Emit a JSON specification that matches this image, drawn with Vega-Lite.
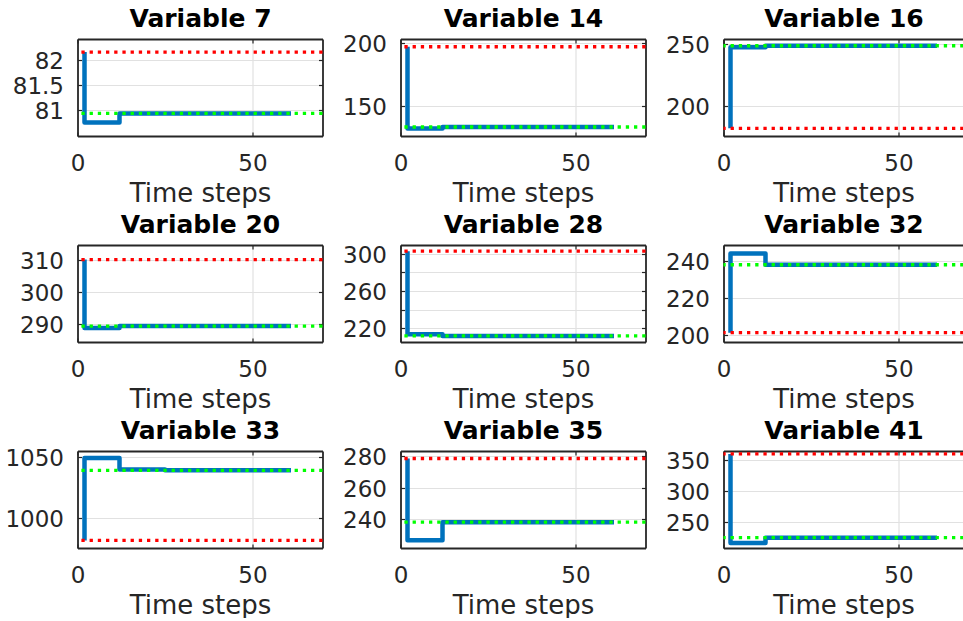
{
  "$schema": "https://vega.github.io/schema/vega-lite/v6.json",
  "background": "white",
  "padding": {"left": 4.5, "top": 6, "right": 0, "bottom": 0},
  "columns": 3,
  "bounds": "flush",
  "spacing": {"row": 109, "column": 78},
  "datasets": {
    "d": [
      {"v": 7, "kind": "path", "i": 0, "t": 2, "y": 82.15},
      {"v": 7, "kind": "path", "i": 1, "t": 2, "y": 80.75},
      {"v": 7, "kind": "path", "i": 2, "t": 12, "y": 80.93},
      {"v": 7, "kind": "path", "i": 3, "t": 61, "y": 80.93},
      {"v": 7, "kind": "limit", "y": 82.15},
      {"v": 7, "kind": "target", "y": 80.93},

      {"v": 14, "kind": "path", "i": 0, "t": 2, "y": 197.2},
      {"v": 14, "kind": "path", "i": 1, "t": 2, "y": 131.8},
      {"v": 14, "kind": "path", "i": 2, "t": 12, "y": 133},
      {"v": 14, "kind": "path", "i": 3, "t": 61, "y": 133},
      {"v": 14, "kind": "limit", "y": 197.2},
      {"v": 14, "kind": "target", "y": 133},

      {"v": 16, "kind": "path", "i": 0, "t": 2, "y": 182.5},
      {"v": 16, "kind": "path", "i": 1, "t": 2, "y": 247.2},
      {"v": 16, "kind": "path", "i": 2, "t": 12, "y": 248.4},
      {"v": 16, "kind": "path", "i": 3, "t": 61, "y": 248.4},
      {"v": 16, "kind": "limit", "y": 182.5},
      {"v": 16, "kind": "target", "y": 248.4},

      {"v": 20, "kind": "path", "i": 0, "t": 2, "y": 310},
      {"v": 20, "kind": "path", "i": 1, "t": 2, "y": 288.9},
      {"v": 20, "kind": "path", "i": 2, "t": 12, "y": 289.5},
      {"v": 20, "kind": "path", "i": 3, "t": 61, "y": 289.5},
      {"v": 20, "kind": "limit", "y": 310},
      {"v": 20, "kind": "target", "y": 289.5},

      {"v": 28, "kind": "path", "i": 0, "t": 2, "y": 302.8},
      {"v": 28, "kind": "path", "i": 1, "t": 2, "y": 213.7},
      {"v": 28, "kind": "path", "i": 2, "t": 12, "y": 211.9},
      {"v": 28, "kind": "path", "i": 3, "t": 61, "y": 211.9},
      {"v": 28, "kind": "limit", "y": 302.8},
      {"v": 28, "kind": "target", "y": 211.9},

      {"v": 32, "kind": "path", "i": 0, "t": 2, "y": 201.5},
      {"v": 32, "kind": "path", "i": 1, "t": 2, "y": 244},
      {"v": 32, "kind": "path", "i": 2, "t": 12, "y": 238},
      {"v": 32, "kind": "path", "i": 3, "t": 61, "y": 238},
      {"v": 32, "kind": "limit", "y": 201.5},
      {"v": 32, "kind": "target", "y": 238},

      {"v": 33, "kind": "path", "i": 0, "t": 2, "y": 981.9},
      {"v": 33, "kind": "path", "i": 1, "t": 2, "y": 1049},
      {"v": 33, "kind": "path", "i": 2, "t": 12, "y": 1039.6},
      {"v": 33, "kind": "path", "i": 3, "t": 25, "y": 1039},
      {"v": 33, "kind": "path", "i": 4, "t": 61, "y": 1039},
      {"v": 33, "kind": "limit", "y": 981.9},
      {"v": 33, "kind": "target", "y": 1039},

      {"v": 35, "kind": "path", "i": 0, "t": 2, "y": 278.3},
      {"v": 35, "kind": "path", "i": 1, "t": 2, "y": 227},
      {"v": 35, "kind": "path", "i": 2, "t": 12, "y": 238.3},
      {"v": 35, "kind": "path", "i": 3, "t": 61, "y": 238.3},
      {"v": 35, "kind": "limit", "y": 278.3},
      {"v": 35, "kind": "target", "y": 238.3},

      {"v": 41, "kind": "path", "i": 0, "t": 2, "y": 359.3},
      {"v": 41, "kind": "path", "i": 1, "t": 2, "y": 217.3},
      {"v": 41, "kind": "path", "i": 2, "t": 12, "y": 225.8},
      {"v": 41, "kind": "path", "i": 3, "t": 61, "y": 225.8},
      {"v": 41, "kind": "limit", "y": 359.3},
      {"v": 41, "kind": "target", "y": 225.8}
    ]
  },
  "concat": [
    {
      "width": 245, "height": 97,
      "data": {"name": "d"}, "transform": [{"filter": "datum.v == 7"}],
      "layer": [
        {"transform": [{"filter": "datum.kind == 'path'"}],
         "mark": {"type": "line", "interpolate": "step-after", "color": "#0072bd", "strokeWidth": 4.5, "strokeJoin": "round"},
         "encoding": {
           "x": {"field": "t", "type": "quantitative", "scale": {"domain": [0, 70], "nice": false, "zero": false}, "axis": {"orient": "bottom", "values": [0, 50], "title": "Time steps"}},
           "y": {"field": "y", "type": "quantitative", "scale": {"domain": [80.48, 82.41], "nice": false, "zero": false}, "axis": {"orient": "left", "values": [81, 81.5, 82], "format": "~r", "title": null}},
           "order": {"field": "i"}}},
        {"transform": [{"filter": "datum.kind != 'path'"}],
         "mark": {"type": "rule", "strokeWidth": 3.3, "strokeDash": [3.3, 4.9]},
         "encoding": {
           "y": {"field": "y", "type": "quantitative", "scale": {"domain": [80.48, 82.41], "nice": false, "zero": false}, "axis": null},
           "color": {"field": "kind", "type": "nominal", "scale": {"domain": ["limit", "target"], "range": ["#ff0000", "#00ff00"]}, "legend": null}}},
        {"transform": [{"filter": "datum.kind == 'path'"}],
         "mark": {"type": "point", "opacity": 0},
         "encoding": {
           "x": {"field": "t", "type": "quantitative", "scale": {"domain": [0, 70], "nice": false, "zero": false}, "axis": {"orient": "top", "values": [0, 50], "labels": false, "grid": false, "title": "Variable 7"}},
           "y": {"field": "y", "type": "quantitative", "scale": {"domain": [80.48, 82.41], "nice": false, "zero": false}, "axis": {"orient": "right", "values": [81, 81.5, 82], "labels": false, "grid": false, "title": null}}}}
      ]
    },
    {
      "width": 245, "height": 97,
      "data": {"name": "d"}, "transform": [{"filter": "datum.v == 14"}],
      "layer": [
        {"transform": [{"filter": "datum.kind == 'path'"}],
         "mark": {"type": "line", "interpolate": "step-after", "color": "#0072bd", "strokeWidth": 4.5, "strokeJoin": "round"},
         "encoding": {
           "x": {"field": "t", "type": "quantitative", "scale": {"domain": [0, 70], "nice": false, "zero": false}, "axis": {"orient": "bottom", "values": [0, 50], "title": "Time steps"}},
           "y": {"field": "y", "type": "quantitative", "scale": {"domain": [125.8, 203.4], "nice": false, "zero": false}, "axis": {"orient": "left", "values": [150, 200], "format": "~r", "title": null}},
           "order": {"field": "i"}}},
        {"transform": [{"filter": "datum.kind != 'path'"}],
         "mark": {"type": "rule", "strokeWidth": 3.3, "strokeDash": [3.3, 4.9]},
         "encoding": {
           "y": {"field": "y", "type": "quantitative", "scale": {"domain": [125.8, 203.4], "nice": false, "zero": false}, "axis": null},
           "color": {"field": "kind", "type": "nominal", "scale": {"domain": ["limit", "target"], "range": ["#ff0000", "#00ff00"]}, "legend": null}}},
        {"transform": [{"filter": "datum.kind == 'path'"}],
         "mark": {"type": "point", "opacity": 0},
         "encoding": {
           "x": {"field": "t", "type": "quantitative", "scale": {"domain": [0, 70], "nice": false, "zero": false}, "axis": {"orient": "top", "values": [0, 50], "labels": false, "grid": false, "title": "Variable 14"}},
           "y": {"field": "y", "type": "quantitative", "scale": {"domain": [125.8, 203.4], "nice": false, "zero": false}, "axis": {"orient": "right", "values": [150, 200], "labels": false, "grid": false, "title": null}}}}
      ]
    },
    {
      "width": 240, "height": 97,
      "data": {"name": "d"}, "transform": [{"filter": "datum.v == 16"}],
      "layer": [
        {"transform": [{"filter": "datum.kind == 'path'"}],
         "mark": {"type": "line", "interpolate": "step-after", "color": "#0072bd", "strokeWidth": 4.5, "strokeJoin": "round"},
         "encoding": {
           "x": {"field": "t", "type": "quantitative", "scale": {"domain": [0, 68.57], "nice": false, "zero": false}, "axis": {"orient": "bottom", "values": [0, 50], "title": "Time steps"}},
           "y": {"field": "y", "type": "quantitative", "scale": {"domain": [176.4, 253.8], "nice": false, "zero": false}, "axis": {"orient": "left", "values": [200, 250], "format": "~r", "title": null}},
           "order": {"field": "i"}}},
        {"transform": [{"filter": "datum.kind != 'path'"}],
         "mark": {"type": "rule", "strokeWidth": 3.3, "strokeDash": [3.3, 4.9]},
         "encoding": {
           "y": {"field": "y", "type": "quantitative", "scale": {"domain": [176.4, 253.8], "nice": false, "zero": false}, "axis": null},
           "color": {"field": "kind", "type": "nominal", "scale": {"domain": ["limit", "target"], "range": ["#ff0000", "#00ff00"]}, "legend": null}}},
        {"transform": [{"filter": "datum.kind == 'path'"}],
         "mark": {"type": "point", "opacity": 0},
         "encoding": {
           "x": {"field": "t", "type": "quantitative", "scale": {"domain": [0, 68.57], "nice": false, "zero": false}, "axis": {"orient": "top", "values": [0, 50], "labels": false, "grid": false, "title": "Variable 16"}},
           "y": {"field": "y", "type": "quantitative", "scale": {"domain": [176.4, 253.8], "nice": false, "zero": false}, "axis": {"orient": "right", "domain": false, "ticks": false, "labels": false, "grid": false, "title": null}}}}
      ]
    },
    {
      "width": 245, "height": 97,
      "data": {"name": "d"}, "transform": [{"filter": "datum.v == 20"}],
      "layer": [
        {"transform": [{"filter": "datum.kind == 'path'"}],
         "mark": {"type": "line", "interpolate": "step-after", "color": "#0072bd", "strokeWidth": 4.5, "strokeJoin": "round"},
         "encoding": {
           "x": {"field": "t", "type": "quantitative", "scale": {"domain": [0, 70], "nice": false, "zero": false}, "axis": {"orient": "bottom", "values": [0, 50], "title": "Time steps"}},
           "y": {"field": "y", "type": "quantitative", "scale": {"domain": [284.6, 314.5], "nice": false, "zero": false}, "axis": {"orient": "left", "values": [290, 300, 310], "format": "~r", "title": null}},
           "order": {"field": "i"}}},
        {"transform": [{"filter": "datum.kind != 'path'"}],
         "mark": {"type": "rule", "strokeWidth": 3.3, "strokeDash": [3.3, 4.9]},
         "encoding": {
           "y": {"field": "y", "type": "quantitative", "scale": {"domain": [284.6, 314.5], "nice": false, "zero": false}, "axis": null},
           "color": {"field": "kind", "type": "nominal", "scale": {"domain": ["limit", "target"], "range": ["#ff0000", "#00ff00"]}, "legend": null}}},
        {"transform": [{"filter": "datum.kind == 'path'"}],
         "mark": {"type": "point", "opacity": 0},
         "encoding": {
           "x": {"field": "t", "type": "quantitative", "scale": {"domain": [0, 70], "nice": false, "zero": false}, "axis": {"orient": "top", "values": [0, 50], "labels": false, "grid": false, "title": "Variable 20"}},
           "y": {"field": "y", "type": "quantitative", "scale": {"domain": [284.6, 314.5], "nice": false, "zero": false}, "axis": {"orient": "right", "values": [290, 300, 310], "labels": false, "grid": false, "title": null}}}}
      ]
    },
    {
      "width": 245, "height": 97,
      "data": {"name": "d"}, "transform": [{"filter": "datum.v == 28"}],
      "layer": [
        {"transform": [{"filter": "datum.kind == 'path'"}],
         "mark": {"type": "line", "interpolate": "step-after", "color": "#0072bd", "strokeWidth": 4.5, "strokeJoin": "round"},
         "encoding": {
           "x": {"field": "t", "type": "quantitative", "scale": {"domain": [0, 70], "nice": false, "zero": false}, "axis": {"orient": "bottom", "values": [0, 50], "title": "Time steps"}},
           "y": {"field": "y", "type": "quantitative", "scale": {"domain": [205.4, 309.4], "nice": false, "zero": false}, "axis": {"orient": "left", "values": [220, 240, 260, 280, 300], "labelExpr": "datum.value % 40 == 20 ? datum.label : ''", "format": "~r", "title": null}},
           "order": {"field": "i"}}},
        {"transform": [{"filter": "datum.kind != 'path'"}],
         "mark": {"type": "rule", "strokeWidth": 3.3, "strokeDash": [3.3, 4.9]},
         "encoding": {
           "y": {"field": "y", "type": "quantitative", "scale": {"domain": [205.4, 309.4], "nice": false, "zero": false}, "axis": null},
           "color": {"field": "kind", "type": "nominal", "scale": {"domain": ["limit", "target"], "range": ["#ff0000", "#00ff00"]}, "legend": null}}},
        {"transform": [{"filter": "datum.kind == 'path'"}],
         "mark": {"type": "point", "opacity": 0},
         "encoding": {
           "x": {"field": "t", "type": "quantitative", "scale": {"domain": [0, 70], "nice": false, "zero": false}, "axis": {"orient": "top", "values": [0, 50], "labels": false, "grid": false, "title": "Variable 28"}},
           "y": {"field": "y", "type": "quantitative", "scale": {"domain": [205.4, 309.4], "nice": false, "zero": false}, "axis": {"orient": "right", "values": [220, 240, 260, 280, 300], "labels": false, "grid": false, "title": null}}}}
      ]
    },
    {
      "width": 240, "height": 97,
      "data": {"name": "d"}, "transform": [{"filter": "datum.v == 32"}],
      "layer": [
        {"transform": [{"filter": "datum.kind == 'path'"}],
         "mark": {"type": "line", "interpolate": "step-after", "color": "#0072bd", "strokeWidth": 4.5, "strokeJoin": "round"},
         "encoding": {
           "x": {"field": "t", "type": "quantitative", "scale": {"domain": [0, 68.57], "nice": false, "zero": false}, "axis": {"orient": "bottom", "values": [0, 50], "title": "Time steps"}},
           "y": {"field": "y", "type": "quantitative", "scale": {"domain": [196.5, 248.6], "nice": false, "zero": false}, "axis": {"orient": "left", "values": [200, 220, 240], "format": "~r", "title": null}},
           "order": {"field": "i"}}},
        {"transform": [{"filter": "datum.kind != 'path'"}],
         "mark": {"type": "rule", "strokeWidth": 3.3, "strokeDash": [3.3, 4.9]},
         "encoding": {
           "y": {"field": "y", "type": "quantitative", "scale": {"domain": [196.5, 248.6], "nice": false, "zero": false}, "axis": null},
           "color": {"field": "kind", "type": "nominal", "scale": {"domain": ["limit", "target"], "range": ["#ff0000", "#00ff00"]}, "legend": null}}},
        {"transform": [{"filter": "datum.kind == 'path'"}],
         "mark": {"type": "point", "opacity": 0},
         "encoding": {
           "x": {"field": "t", "type": "quantitative", "scale": {"domain": [0, 68.57], "nice": false, "zero": false}, "axis": {"orient": "top", "values": [0, 50], "labels": false, "grid": false, "title": "Variable 32"}},
           "y": {"field": "y", "type": "quantitative", "scale": {"domain": [196.5, 248.6], "nice": false, "zero": false}, "axis": {"orient": "right", "domain": false, "ticks": false, "labels": false, "grid": false, "title": null}}}}
      ]
    },
    {
      "width": 245, "height": 97,
      "data": {"name": "d"}, "transform": [{"filter": "datum.v == 33"}],
      "layer": [
        {"transform": [{"filter": "datum.kind == 'path'"}],
         "mark": {"type": "line", "interpolate": "step-after", "color": "#0072bd", "strokeWidth": 4.5, "strokeJoin": "round"},
         "encoding": {
           "x": {"field": "t", "type": "quantitative", "scale": {"domain": [0, 70], "nice": false, "zero": false}, "axis": {"orient": "bottom", "values": [0, 50], "title": "Time steps"}},
           "y": {"field": "y", "type": "quantitative", "scale": {"domain": [975.7, 1054.7], "nice": false, "zero": false}, "axis": {"orient": "left", "values": [1000, 1050], "format": "~r", "title": null}},
           "order": {"field": "i"}}},
        {"transform": [{"filter": "datum.kind != 'path'"}],
         "mark": {"type": "rule", "strokeWidth": 3.3, "strokeDash": [3.3, 4.9]},
         "encoding": {
           "y": {"field": "y", "type": "quantitative", "scale": {"domain": [975.7, 1054.7], "nice": false, "zero": false}, "axis": null},
           "color": {"field": "kind", "type": "nominal", "scale": {"domain": ["limit", "target"], "range": ["#ff0000", "#00ff00"]}, "legend": null}}},
        {"transform": [{"filter": "datum.kind == 'path'"}],
         "mark": {"type": "point", "opacity": 0},
         "encoding": {
           "x": {"field": "t", "type": "quantitative", "scale": {"domain": [0, 70], "nice": false, "zero": false}, "axis": {"orient": "top", "values": [0, 50], "labels": false, "grid": false, "title": "Variable 33"}},
           "y": {"field": "y", "type": "quantitative", "scale": {"domain": [975.7, 1054.7], "nice": false, "zero": false}, "axis": {"orient": "right", "values": [1000, 1050], "labels": false, "grid": false, "title": null}}}}
      ]
    },
    {
      "width": 245, "height": 97,
      "data": {"name": "d"}, "transform": [{"filter": "datum.v == 35"}],
      "layer": [
        {"transform": [{"filter": "datum.kind == 'path'"}],
         "mark": {"type": "line", "interpolate": "step-after", "color": "#0072bd", "strokeWidth": 4.5, "strokeJoin": "round"},
         "encoding": {
           "x": {"field": "t", "type": "quantitative", "scale": {"domain": [0, 70], "nice": false, "zero": false}, "axis": {"orient": "bottom", "values": [0, 50], "title": "Time steps"}},
           "y": {"field": "y", "type": "quantitative", "scale": {"domain": [222.1, 283], "nice": false, "zero": false}, "axis": {"orient": "left", "values": [240, 260, 280], "format": "~r", "title": null}},
           "order": {"field": "i"}}},
        {"transform": [{"filter": "datum.kind != 'path'"}],
         "mark": {"type": "rule", "strokeWidth": 3.3, "strokeDash": [3.3, 4.9]},
         "encoding": {
           "y": {"field": "y", "type": "quantitative", "scale": {"domain": [222.1, 283], "nice": false, "zero": false}, "axis": null},
           "color": {"field": "kind", "type": "nominal", "scale": {"domain": ["limit", "target"], "range": ["#ff0000", "#00ff00"]}, "legend": null}}},
        {"transform": [{"filter": "datum.kind == 'path'"}],
         "mark": {"type": "point", "opacity": 0},
         "encoding": {
           "x": {"field": "t", "type": "quantitative", "scale": {"domain": [0, 70], "nice": false, "zero": false}, "axis": {"orient": "top", "values": [0, 50], "labels": false, "grid": false, "title": "Variable 35"}},
           "y": {"field": "y", "type": "quantitative", "scale": {"domain": [222.1, 283], "nice": false, "zero": false}, "axis": {"orient": "right", "values": [240, 260, 280], "labels": false, "grid": false, "title": null}}}}
      ]
    },
    {
      "width": 240, "height": 97,
      "data": {"name": "d"}, "transform": [{"filter": "datum.v == 41"}],
      "layer": [
        {"transform": [{"filter": "datum.kind == 'path'"}],
         "mark": {"type": "line", "interpolate": "step-after", "color": "#0072bd", "strokeWidth": 4.5, "strokeJoin": "round"},
         "encoding": {
           "x": {"field": "t", "type": "quantitative", "scale": {"domain": [0, 68.57], "nice": false, "zero": false}, "axis": {"orient": "bottom", "values": [0, 50], "title": "Time steps"}},
           "y": {"field": "y", "type": "quantitative", "scale": {"domain": [209.3, 364], "nice": false, "zero": false}, "axis": {"orient": "left", "values": [250, 300, 350], "format": "~r", "title": null}},
           "order": {"field": "i"}}},
        {"transform": [{"filter": "datum.kind != 'path'"}],
         "mark": {"type": "rule", "strokeWidth": 3.3, "strokeDash": [3.3, 4.9]},
         "encoding": {
           "y": {"field": "y", "type": "quantitative", "scale": {"domain": [209.3, 364], "nice": false, "zero": false}, "axis": null},
           "color": {"field": "kind", "type": "nominal", "scale": {"domain": ["limit", "target"], "range": ["#ff0000", "#00ff00"]}, "legend": null}}},
        {"transform": [{"filter": "datum.kind == 'path'"}],
         "mark": {"type": "point", "opacity": 0},
         "encoding": {
           "x": {"field": "t", "type": "quantitative", "scale": {"domain": [0, 68.57], "nice": false, "zero": false}, "axis": {"orient": "top", "values": [0, 50], "labels": false, "grid": false, "title": "Variable 41"}},
           "y": {"field": "y", "type": "quantitative", "scale": {"domain": [209.3, 364], "nice": false, "zero": false}, "axis": {"orient": "right", "domain": false, "ticks": false, "labels": false, "grid": false, "title": null}}}}
      ]
    }
  ],
  "config": {
    "font": "DejaVu Sans",
    "view": {"stroke": null},
    "axis": {
      "labelFont": "DejaVu Sans", "labelFontSize": 23, "labelColor": "#262626",
      "titleFont": "DejaVu Sans", "titleFontSize": 26, "titleFontWeight": "normal", "titleColor": "#262626",
      "gridColor": "#e1e1e1", "gridWidth": 1.2,
      "domainColor": "#262626", "domainWidth": 1.8,
      "tickColor": "#262626", "tickSize": -4, "tickWidth": 1.2,
      "labelFlush": false, "labelOverlap": false
    },
    "axisX": {"labelPadding": 20, "titlePadding": 5},
    "axisY": {"labelPadding": 18, "labelOffset": 1.5},
    "axisTop": {"titleFontSize": 25, "titleFontWeight": "bold", "titleColor": "#000000", "titleBaseline": "alphabetic", "titlePadding": 11.5}
  }
}
